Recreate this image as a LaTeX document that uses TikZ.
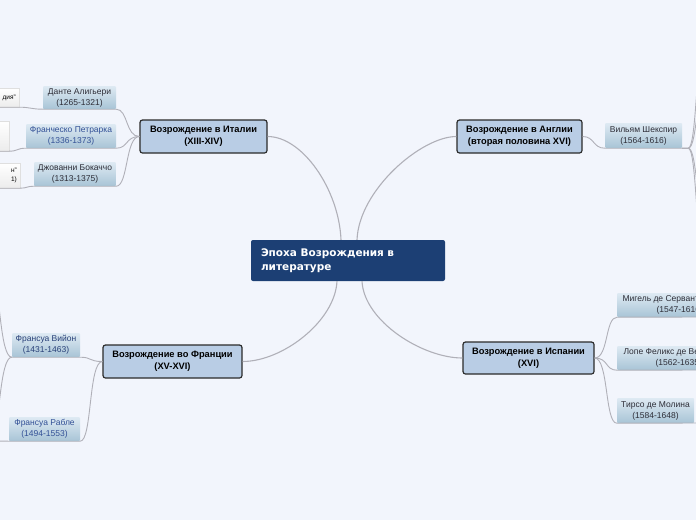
\documentclass[tikz,border=0pt]{standalone}
\usepackage{fontspec}
\setmainfont{Liberation Sans}
\newfontfamily\dejavu{DejaVu Sans}
\usetikzlibrary{calc}
\definecolor{bgc}{RGB}{242,245,252}
\definecolor{mainc}{RGB}{28,63,116}
\definecolor{topicc}{RGB}{185,205,229}
\definecolor{topicb}{RGB}{43,43,43}
\definecolor{subtop}{RGB}{222,234,243}
\definecolor{subbot}{RGB}{168,196,214}
\definecolor{linkc}{RGB}{176,176,184}
\definecolor{subtext}{RGB}{45,45,55}
\definecolor{bluetext}{RGB}{50,80,150}
\tikzset{
  mainbox/.style={fill=mainc, rounded corners=2pt, text=white, font=\dejavu\bfseries\fontsize{10.5}{14}\selectfont,
    align=left, text width=174pt, inner xsep=10pt, minimum width=194pt, minimum height=41pt},
  topicbox/.style={fill=topicc, draw=topicb, line width=1.2pt, rounded corners=2.5pt,
    font=\bfseries\fontsize{9.3}{12}\selectfont, align=center, inner sep=1pt},
  subbox/.style={top color=subtop, bottom color=subbot, draw=none, rounded corners=1pt,
    font=\fontsize{8.5}{11}\selectfont, text=subtext, align=center, inner sep=1pt},
  workbox/.style={top color=white, bottom color=gray!15, draw=gray!25, line width=0.4pt,
    font=\fontsize{6.5}{9}\selectfont, text=black, align=right, anchor=east, inner xsep=3pt},
  mainlink/.style={draw=linkc, line width=1.1pt},
  sublink/.style={draw=linkc, line width=0.9pt},
}
\begin{document}
\begin{tikzpicture}[x=1pt,y=-1pt]
\fill[bgc] (0,0) rectangle (696,520);
\useasboundingbox (0,0) rectangle (696,520);

\path (348,260.5) node[mainbox] (main) {Эпоха Возрождения в\\литературе};

\path (203.5,136.5) node[topicbox, minimum width=127pt, minimum height=33pt] (ital) {Возрождение в Италии\\(XIII-XIV)};
\path (519.5,136.5) node[topicbox, minimum width=125pt, minimum height=33pt] (engl) {Возрождение в Англии\\(вторая половина XVI)};
\path (172.5,361.5) node[topicbox, minimum width=139pt, minimum height=33pt] (fran) {Возрождение во Франции\\(XV-XVI)};
\path (528.5,358) node[topicbox, minimum width=131pt, minimum height=32pt] (spain) {Возрождение в Испании\\(XVI)};

\path (79.5,97.5) node[subbox, minimum width=73pt, minimum height=23pt] (dante) {Данте Алигьери\\(1265-1321)};
\path (71,136) node[subbox, minimum width=90pt, minimum height=24pt, text=bluetext] (petr) {Франческо Петрарка\\(1336-1373)};
\path (75,174) node[subbox, minimum width=82pt, minimum height=24pt] (bocc) {Джованни Бокаччо\\(1313-1375)};
\path (643.5,135.5) node[subbox, minimum width=77pt, minimum height=25pt] (shak) {Вильям Шекспир\\(1564-1616)};
\path (46,345) node[subbox, minimum width=68pt, minimum height=24pt, text=bluetext!80!black] (villon) {Франсуа Вийон\\(1431-1463)};
\path (44.5,429) node[subbox, minimum width=71pt, minimum height=24pt, text=bluetext] (rab) {Франсуа Рабле\\(1494-1553)};
\path (617,305) node[subbox, anchor=west, minimum width=96pt, minimum height=24pt, align=left, inner xsep=4pt] (serv) {Мигель де Сервантес\\\hspace*{34pt}(1547-1616)};
\path (617,358) node[subbox, anchor=west, minimum width=96pt, minimum height=24pt, align=left, inner xsep=4pt] (lope) {Лопе Феликс де Вега\\\hspace*{32pt}(1562-1635)};
\path (655.5,410.5) node[subbox, minimum width=77pt, minimum height=25pt] (tirso) {Тирсо де Молина\\(1584-1648)};

\path (19,97.5) node[workbox, text width=34pt, minimum height=19pt] (dwork) {дия"};
\path (9,136) node[workbox, minimum width=40pt, minimum height=30pt] (pwork) {};
\path (20,175.5) node[workbox, text width=34pt, minimum height=25pt] (bwork) {н"\\1)};

\coordinate (villonA) at (-6,285);
\coordinate (villonB) at (-6,425);
\coordinate (rabA) at (-12,441);
\coordinate (shakA) at (702,60);
\coordinate (shakB) at (702,100);
\coordinate (shakC) at (702,200);
\coordinate (shakD) at (702,240);
\coordinate (servE) at (700,317);
\coordinate (lopeE) at (700,370);
\coordinate (tirsoE) at (700,423);

% main links
\draw[mainlink] (ital.east) .. controls +(35,0) and +(-2,-50) .. ([xshift=-7pt]main.north);
\draw[mainlink] (engl.west) .. controls +(-35,0) and +(2,-50) .. ([xshift=9pt]main.north);
\draw[mainlink] (fran.east) .. controls +(40,0) and +(-2,40) .. ([xshift=-11pt]main.south);
\draw[mainlink] (spain.west) .. controls +(-40,0) and +(2,40) .. ([xshift=14pt]main.south);

% Italy
\draw[sublink] (ital.west) .. controls +(-14,0) and +(12,0) .. (dante.south east) -- (dante.south west)
   .. controls +(-12,0) and +(12,0) .. (dwork.south east) -- (dwork.south west);
\draw[sublink] (ital.west) .. controls +(-14,0) and +(12,0) .. (petr.south east) -- (petr.south west)
   .. controls +(-9,0) and +(9,0) .. (pwork.south east) -- (pwork.south west);
\draw[sublink] (ital.west) .. controls +(-14,0) and +(12,0) .. (bocc.south east) -- (bocc.south west)
   .. controls +(-7,0) and +(7,0) .. (bwork.south east) -- (bwork.south west);

% England
\draw[sublink] (engl.east) .. controls +(12,0) and +(-12,0) .. (shak.south west) -- (shak.south east);
\foreach \c in {shakA,shakB,shakC,shakD}
  \draw[sublink] (shak.south east) -- ++(6,0) .. controls +(8,0) and +(-6,0) .. (\c);

% France
\draw[sublink] (fran.west) .. controls +(-14,0) and +(12,0) .. (villon.south east) -- (villon.south west);
\draw[sublink] (villon.south west) .. controls +(-12,0) and +(6,0) .. (villonA);
\draw[sublink] (villon.south west) .. controls +(-12,0) and +(6,0) .. (villonB);
\draw[sublink] (fran.west) .. controls +(-14,0) and +(12,0) .. (rab.south east) -- (rab.south west) -- (rabA);

% Spain
\draw[sublink] (spain.east) .. controls +(14,0) and +(-12,0) .. (serv.south west) -- (servE);
\draw[sublink] (spain.east) .. controls +(14,0) and +(-12,0) .. (lope.south west) -- (lopeE);
\draw[sublink] (spain.east) .. controls +(14,0) and +(-12,0) .. (tirso.south west) -- (tirsoE);
\end{tikzpicture}
\end{document}
